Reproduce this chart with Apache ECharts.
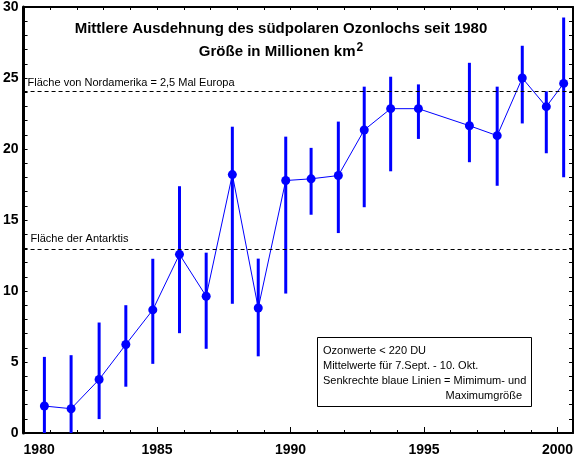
<!DOCTYPE html>
<html>
<head>
<meta charset="utf-8">
<script src="https://cdn.jsdelivr.net/npm/echarts@6/dist/echarts.min.js"></script>
<style>html,body{margin:0;padding:0;background:#fff}#c{width:579px;height:468px}</style>
</head>
<body>
<div id="c"></div>
<script>
// Data
var xPositions = [1980.78,1981.78,1982.83,1983.83,1984.84,1985.84,1986.84,1987.82,1988.79,1989.82,1990.77,1991.79,1992.76,1993.75,1994.79,1996.70,1997.74,1998.68,1999.58,2000.23];
var meanValues = [1.90,1.71,3.77,6.23,8.67,12.58,9.63,18.2,8.8,17.78,17.9,18.13,21.34,22.84,22.84,21.64,20.94,25.0,22.98,24.62];
var maxValues  = [5.36,5.48,7.78,9.0,12.27,17.38,12.70,21.57,12.28,20.87,20.08,21.93,24.39,25.09,24.55,26.07,24.39,27.27,24.06,29.26];
var minValues  = [0,0,0.98,3.26,4.87,7.03,5.93,9.1,5.4,9.82,15.37,14.08,15.9,18.43,20.71,19.07,17.41,21.8,19.7,18.01];
var refLineValues = [24.1, 12.95];
var refLineLabels = ['Fläche von Nordamerika = 2,5 Mal Europa', 'Fläche der Antarktis'];
var titleLine1 = 'Mittlere Ausdehnung des südpolaren Ozonlochs seit 1980';
var titleLine2 = 'Größe in Millionen km';
var noteLines = ['Ozonwerte < 220 DU', 'Mittelwerte für 7.Sept. - 10. Okt.', 'Senkrechte blaue Linien = Mimimum- und', 'Maximumgröße'];

var FONT = '"Liberation Sans", Arial, sans-serif';
var BLUE = '#0000ff';
var chart = echarts.init(document.getElementById('c'), null, {renderer: 'canvas'});

var lineData = xPositions.map(function (x, i) { return [x, meanValues[i]]; });
var barData = xPositions.map(function (x, i) { return [x, minValues[i], maxValues[i]]; });

var xBase = {type: 'value', min: 1980, max: 2000.58, gridIndex: 0, splitLine: {show: false}};

var option = {
  animation: false,
  backgroundColor: '#fff',
  grid: {left: 23.5, right: 6, top: 6, bottom: 35, containLabel: false},
  xAxis: [
    Object.assign({}, xBase, {
      position: 'bottom', interval: 1,
      axisLine: {show: true, lineStyle: {color: '#000', width: 2}},
      axisTick: {show: true, inside: true, length: 3, lineStyle: {color: '#000', width: 1}},
      axisLabel: {show: true, margin: 10, color: '#000', fontFamily: FONT, fontWeight: 'bold', fontSize: 14,
        alignMinLabel: 'left',
        formatter: function (v) { return (Math.abs(v - Math.round(v)) < 1e-6 && Math.round(v) % 5 === 0) ? String(Math.round(v)) : ''; }}
    }),
    Object.assign({}, xBase, {
      position: 'bottom', interval: 5,
      axisLine: {show: false},
      axisTick: {show: true, inside: true, length: 6, lineStyle: {color: '#000', width: 1}},
      axisLabel: {show: false}
    }),
    Object.assign({}, xBase, {
      position: 'top', interval: 1,
      axisLine: {show: true, lineStyle: {color: '#000', width: 2}},
      axisTick: {show: true, inside: true, length: 3, lineStyle: {color: '#000', width: 1}},
      axisLabel: {show: false}
    })
  ],
  yAxis: [
    {
      type: 'value', position: 'left', min: 0, max: 30, interval: 5,
      axisLine: {show: true, lineStyle: {color: '#000', width: 3}},
      axisTick: {show: true, inside: true, length: 4, lineStyle: {color: '#000', width: 1}},
      minorTick: {show: true, splitNumber: 5, length: 4, lineStyle: {color: '#000', width: 1}},
      axisLabel: {show: true, margin: 5, color: '#000', fontFamily: FONT, fontWeight: 'bold', fontSize: 14},
      splitLine: {show: false}, minorSplitLine: {show: false}
    },
    {
      type: 'value', position: 'right', min: 0, max: 30, interval: 5,
      axisLine: {show: true, lineStyle: {color: '#000', width: 2}},
      axisTick: {show: true, inside: true, length: 4, lineStyle: {color: '#000', width: 1}},
      minorTick: {show: true, splitNumber: 5, length: 4, lineStyle: {color: '#000', width: 1}},
      axisLabel: {show: false},
      splitLine: {show: false}, minorSplitLine: {show: false}
    }
  ],
  series: [
    {
      type: 'custom', xAxisIndex: 0, yAxisIndex: 0, z: 2,
      data: barData,
      encode: {x: 0, y: [1, 2]},
      renderItem: function (params, api) {
        var p1 = api.coord([api.value(0), api.value(1)]);
        var p2 = api.coord([api.value(0), api.value(2)]);
        return {type: 'line', shape: {x1: p1[0], y1: p1[1], x2: p2[0], y2: p2[1]},
          style: {stroke: BLUE, lineWidth: 3}};
      }
    },
    {
      type: 'line', xAxisIndex: 0, yAxisIndex: 0, z: 3,
      data: lineData,
      symbol: 'circle', symbolSize: 9,
      itemStyle: {color: BLUE},
      lineStyle: {color: BLUE, width: 1},
      markLine: {
        silent: true, symbol: 'none', animation: false,
        lineStyle: {color: '#000', width: 1, type: [4, 3]},
        label: {show: true, position: 'insideStartTop', color: '#000', fontFamily: FONT, fontSize: 11},
        data: [
          {yAxis: refLineValues[0], label: {formatter: refLineLabels[0], distance: [4, 2]}},
          {yAxis: refLineValues[1], label: {formatter: refLineLabels[1], distance: [7, 5]}}
        ]
      }
    }
  ],
  graphic: [
    {type: 'text', x: 281, y: 29, z: 10, style: {text: titleLine1, fill: '#000', font: 'bold 15px ' + FONT, textAlign: 'center', textVerticalAlign: 'middle'}},
    {type: 'text', x: 281, y: 52, z: 10, style: {
      text: '{a|' + titleLine2 + '}{b|2}', textAlign: 'center', textVerticalAlign: 'middle',
      rich: {a: {fill: '#000', font: 'bold 15px ' + FONT}, b: {fill: '#000', font: 'bold 12px ' + FONT, padding: [0, 0, 9, 1]}}
    }},
    {type: 'rect', z: 10, shape: {x: 317.5, y: 337.5, width: 214, height: 69}, style: {fill: '#fff', stroke: '#000', lineWidth: 1}},
    {type: 'text', x: 323, y: 351, z: 11, style: {text: noteLines[0], fill: '#000', font: '11px ' + FONT, textVerticalAlign: 'middle'}},
    {type: 'text', x: 323, y: 366, z: 11, style: {text: noteLines[1], fill: '#000', font: '11px ' + FONT, textVerticalAlign: 'middle'}},
    {type: 'text', x: 323, y: 381, z: 11, style: {text: noteLines[2], fill: '#000', font: '11px ' + FONT, textVerticalAlign: 'middle'}},
    {type: 'text', x: 522, y: 396, z: 11, style: {text: noteLines[3], fill: '#000', font: '11px ' + FONT, textAlign: 'right', textVerticalAlign: 'middle'}}
  ]
};
chart.setOption(option);
</script>
</body>
</html>
